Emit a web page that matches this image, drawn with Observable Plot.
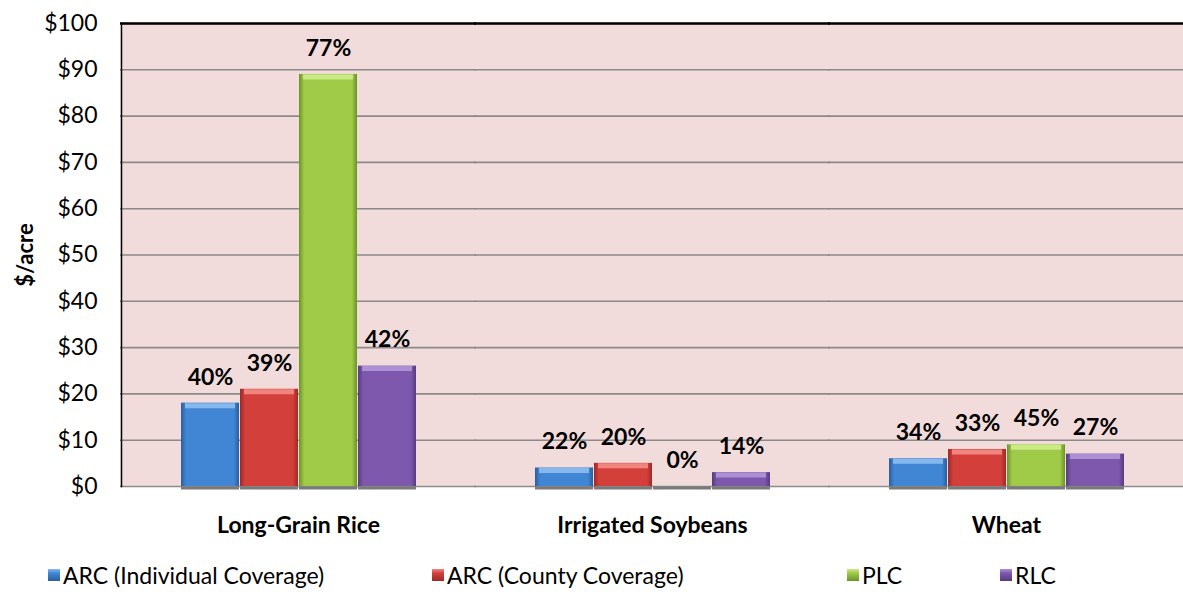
<!DOCTYPE html>
<html>
<head>
<meta charset="utf-8">
<script src="https://cdn.jsdelivr.net/npm/d3@7"></script>
<script src="https://cdn.jsdelivr.net/npm/@observablehq/plot@0.6"></script>
<style>
  body { margin: 0; background: #fff; font-family: Lato, "Open Sans", sans-serif; }
  #wrap { position: relative; width: 1183px; height: 603px; }
  .legend { position: absolute; left: 0; top: 561px; width: 1183px; height: 28px; font-size: 23px; color: #000; }
  .legend .item { position: absolute; top: 0; display: flex; align-items: center; gap: 3px; white-space: nowrap; line-height: 28px; }
  .legend .sw { width: 12px; height: 12px; }
</style>
</head>
<body>
<div id="wrap"></div>
<script>
// Farm program payments per acre, by crop
const categories = ["Long-Grain Rice", "Irrigated Soybeans", "Wheat"];
const programs = ["ARC (Individual Coverage)", "ARC (County Coverage)", "PLC", "RLC"];

// $/acre
const arcIndividual = [18, 4, 6];
const arcCounty = [21, 5, 8];
const plc = [89, 0, 9];
const rlc = [26, 3, 7];

// percentage labels shown over each bar
const arcIndividualPct = [40, 22, 34];
const arcCountyPct = [39, 20, 33];
const plcPct = [77, 0, 45];
const rlcPct = [42, 14, 27];

const yTicks = [0, 10, 20, 30, 40, 50, 60, 70, 80, 90, 100];

const seriesValues = [arcIndividual, arcCounty, plc, rlc];
const seriesPct = [arcIndividualPct, arcCountyPct, plcPct, rlcPct];

const rows = [];
categories.forEach((c, i) => {
  programs.forEach((p, j) => {
    rows.push({category: c, program: p, value: seriesValues[j][i], pct: seriesPct[j][i]});
  });
});

// bevel colours: [edge, middle, top highlight]
const shades = {
  "ARC (Individual Coverage)": ["#2a5e9f", "#4186d4", "#86b8ee"],
  "ARC (County Coverage)": ["#9c2926", "#d3403b", "#f08580"],
  "PLC": ["#6b9328", "#9fcb48", "#cbe985"],
  "RLC": ["#553b7e", "#7d58ad", "#ac90d6"]
};
const gradId = p => "grad-" + programs.indexOf(p);

const font = "Lato, 'Open Sans', sans-serif";

const chart = Plot.plot({
  width: 1183,
  height: 545,
  marginLeft: 121,
  marginRight: 0,
  marginTop: 23,
  marginBottom: 59,
  style: {fontFamily: font, color: "#000", background: "transparent"},
  fx: {domain: categories, padding: 0},
  x: {domain: programs, paddingInner: 0.02, paddingOuter: 0.98, axis: null},
  y: {domain: [0, 100], axis: null},
  marks: [
    Plot.frame({fill: "#f2dcdb", stroke: "none", insetLeft: -1, insetRight: -1}),
    Plot.ruleY(yTicks, {stroke: "#8a8a8a", strokeWidth: 1.6, insetLeft: -1, insetRight: -1}),
    Plot.ruleY([100], {stroke: "#000", strokeWidth: 2.5, insetLeft: -1, insetRight: -1}),
    Plot.frame({anchor: "left", facetAnchor: "left", stroke: "#000", strokeWidth: 1.5}),
    Plot.tickY(rows, {fx: "category", x: "program", y: 0, stroke: "#7a7a7a", strokeWidth: 3, dy: 1.5}),
    Plot.barY(rows, {
      fx: "category", x: "program", y: "value",
      fill: d => `url(#${gradId(d.program)})`
    }),
    Plot.tickY(rows.filter(d => d.value > 0), {
      fx: "category", x: "program", y: "value",
      stroke: d => shades[d.program][2], strokeWidth: 5, dy: 2.5, insetLeft: 4, insetRight: 4
    }),
    Plot.text(rows, {
      fx: "category", x: "program", y: "value",
      text: d => d.pct + "%", dy: -26, fontWeight: "bold", fontSize: 23, fill: "#000"
    }),
    Plot.axisY(yTicks, {
      tickSize: 0, tickPadding: 24, tickFormat: d => "$" + d, fontSize: 23, label: null
    }),
    Plot.text(["$/acre"], {
      frameAnchor: "left", facetAnchor: "left", textAnchor: "middle", rotate: -90, dx: -96,
      fontWeight: "bold", fontSize: 22, fill: "#000"
    }),
    Plot.axisFx({
      anchor: "bottom", tickSize: 0, tickPadding: 30, fontSize: 23, fontWeight: "bold", label: null
    })
  ]
});

// horizontal bevel gradients for the bars
const defs = d3.select(chart).insert("defs", ":first-child");
programs.forEach((p, i) => {
  const [edge, mid] = shades[p];
  const g = defs.append("linearGradient").attr("id", gradId(p)).attr("x1", 0).attr("x2", 1).attr("y1", 0).attr("y2", 0);
  g.append("stop").attr("offset", "0%").attr("stop-color", edge);
  g.append("stop").attr("offset", "9%").attr("stop-color", mid);
  g.append("stop").attr("offset", "91%").attr("stop-color", mid);
  g.append("stop").attr("offset", "100%").attr("stop-color", edge);
});

const wrap = document.getElementById("wrap");
wrap.appendChild(chart);

// legend
const legendX = [48, 432, 847, 1000];
const legend = document.createElement("div");
legend.className = "legend";
programs.forEach((p, i) => {
  const [edge, mid, hi] = shades[p];
  const item = document.createElement("div");
  item.className = "item";
  item.style.left = legendX[i] + "px";
  const sw = document.createElement("span");
  sw.className = "sw";
  sw.style.background = `linear-gradient(to bottom, ${hi} 0%, ${mid} 35%, ${edge} 100%)`;
  const label = document.createElement("span");
  label.textContent = p;
  item.appendChild(sw);
  item.appendChild(label);
  legend.appendChild(item);
});
wrap.appendChild(legend);
</script>
</body>
</html>
